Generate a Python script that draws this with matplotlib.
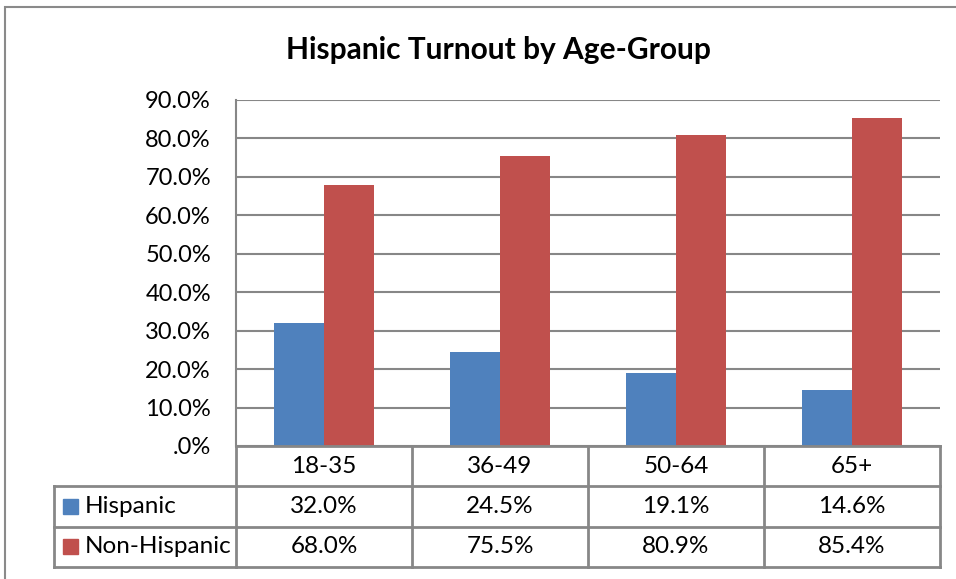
import matplotlib
matplotlib.use("Agg")
import matplotlib.pyplot as plt
from matplotlib.ticker import FuncFormatter, MultipleLocator
from matplotlib.patches import Rectangle

plt.rcParams['font.family'] = ['Lato', 'DejaVu Sans']

# data
age_groups = ['18-35', '36-49', '50-64', '65+']
series_names = ['Hispanic', 'Non-Hispanic']
hispanic = [32.0, 24.5, 19.1, 14.6]
non_hispanic = [68.0, 75.5, 80.9, 85.4]
colors = ['#4F81BD', '#C0504D']
grid_col = '#878787'

W, H = 956, 579
fig = plt.figure(figsize=(W / 100, H / 100), dpi=100)

# outer chart frame (right / bottom edges fall outside the image)
fig.patches.append(Rectangle((5 / W, -0.05), 1.1, 1 - 7 / H + 0.05,
                             transform=fig.transFigure, fill=False,
                             edgecolor='#8a8a8a', linewidth=1.5))

fig.text(498 / W, 1 - 50 / H, 'Hispanic Turnout by Age-Group',
         ha='center', va='center', fontsize=21.5, fontweight='bold')

# plot area
ax = fig.add_axes([236 / W, (H - 446) / H, 704 / W, 346 / H])
x = list(range(len(age_groups)))
bw = 0.284
ax.bar([i - bw / 2 for i in x], hispanic, width=bw, color=colors[0], zorder=3)
ax.bar([i + bw / 2 for i in x], non_hispanic, width=bw, color=colors[1], zorder=3)
ax.set_xlim(-0.5, len(age_groups) - 0.5)
ax.set_ylim(0, 90)
ax.yaxis.set_major_locator(MultipleLocator(10))
ax.yaxis.set_major_formatter(FuncFormatter(
    lambda v, p: '.0%' if v == 0 else '%.1f%%' % v))
ax.tick_params(axis='y', length=0, pad=18, labelsize=17)
ax.set_xticks([])
ax.grid(axis='y', color=grid_col, linewidth=1.5, zorder=0)
for s in ['top', 'right', 'bottom']:
    ax.spines[s].set_visible(False)
ax.spines['left'].set_color(grid_col)
ax.spines['left'].set_linewidth(1.5)

# data table below the plot, shares the x scale
tab = fig.add_axes([236 / W, (H - 567) / H, 704 / W, 121 / H], sharex=ax)
tab.set_ylim(3, 0)
tab.axis('off')
lab_left = -0.5 - (236 - 54) / 176.0
lw = 2
for y in [0, 1, 2, 3]:
    x0 = -0.5 if y == 0 else lab_left
    tab.plot([x0, len(age_groups) - 0.5], [y, y], color=grid_col, lw=lw, clip_on=False)
for b in [i - 0.5 for i in range(len(age_groups) + 1)]:
    tab.plot([b, b], [0, 3], color=grid_col, lw=lw, clip_on=False)
tab.plot([lab_left, lab_left], [1, 3], color=grid_col, lw=lw, clip_on=False)

fs = 17.5
for i, g in enumerate(age_groups):
    tab.text(i, 0.5, g, ha='center', va='center', fontsize=fs)
    tab.text(i, 1.5, '%.1f%%' % hispanic[i], ha='center', va='center', fontsize=fs)
    tab.text(i, 2.5, '%.1f%%' % non_hispanic[i], ha='center', va='center', fontsize=fs)

sq = 15 / 176.0
for r, (name, c) in enumerate(zip(series_names, colors)):
    tab.add_patch(Rectangle((lab_left + 9 / 176.0, r + 1.5 - 0.19), sq, 0.38,
                            color=c, clip_on=False))
    tab.text(lab_left + 31 / 176.0, r + 1.5, name, ha='left', va='center', fontsize=fs)

fig.savefig('out.png', dpi=100)
